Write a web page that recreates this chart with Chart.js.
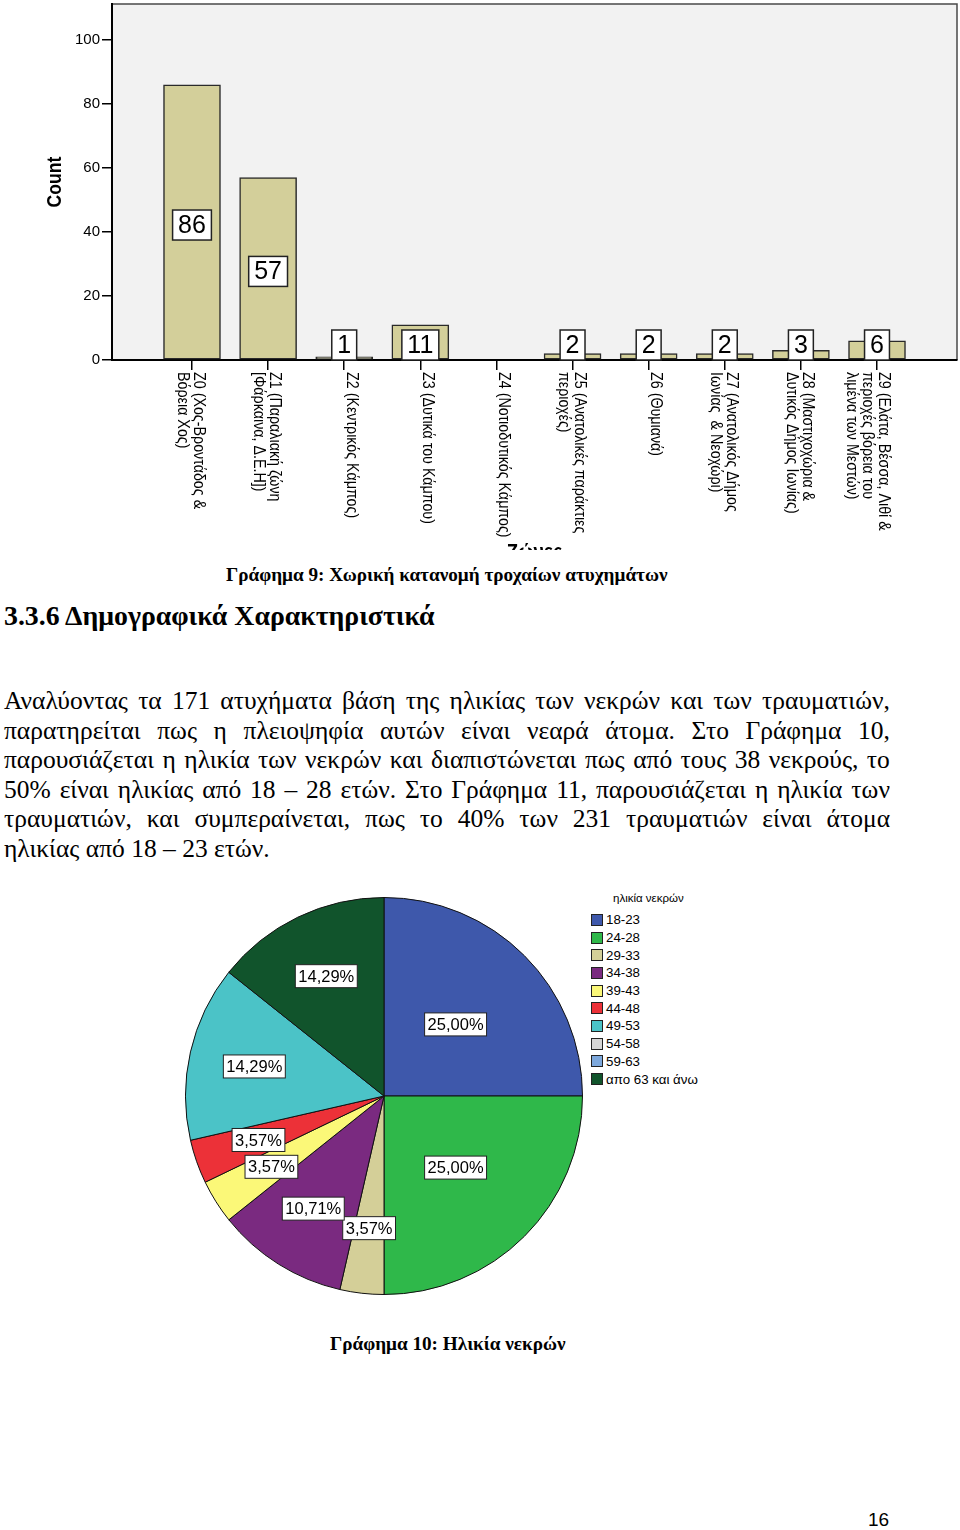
<!DOCTYPE html>
<html lang="el">
<head>
<meta charset="utf-8">
<title>Γράφημα 9 - Γράφημα 10</title>
<script src="https://cdn.jsdelivr.net/npm/chart.js@4.4.1/dist/chart.umd.min.js"></script>
<style>
    body { margin: 0; background: #fff; }
    #page { position: relative; width: 960px; height: 1530px; overflow: hidden; background: #fff; }
    .abs { position: absolute; }
    .serif { font-family: 'Liberation Serif', 'Times New Roman', serif; color: #000; }
    .caption { font-weight: bold; font-size: 19.2px; line-height: 22px; white-space: nowrap; }
    #heading { left: 4px; top: 600px; font-weight: bold; font-size: 27.8px; line-height: 32px; white-space: nowrap; }
    #para { left: 4px; top: 686px; width: 886px; font-size: 25.5px; line-height: 29.6px; }
    #para .ln { display: flex; justify-content: space-between; white-space: nowrap; height: 29.6px; }
    #para .ln.last { display: block; }
    #barWrap { left: 0; top: 0; width: 960px; height: 550px; }
    #pieWrap { left: 185px; top: 897px; width: 398px; height: 398px; }
    #ageLegend { left: 591px; top: 890px; font-family: 'Liberation Sans', Arial, sans-serif; color: #000; }
    #ageLegend .title { font-size: 11.5px; line-height: 16px; margin-left: 22px; margin-bottom: 5px; }
    #ageLegend .row { display: flex; align-items: center; height: 17.7px; }
    #ageLegend .sw { width: 12px; height: 12px; border: 1px solid #222; box-sizing: border-box; margin-right: 3px; }
    #ageLegend .txt { font-size: 13.3px; white-space: nowrap; }
    #pageNum { left: 868px; top: 1508px; font-family: 'Liberation Sans', Arial, sans-serif; font-size: 19px; line-height: 24px; }
</style>
</head>
<body>
<div id="page">
    <div id="barWrap" class="abs"><canvas id="zoneChart"></canvas></div>
    <div class="abs serif caption" style="left:226px; top:564px;">Γράφημα 9: Χωρική κατανομή τροχαίων ατυχημάτων</div>
    <div id="heading" class="abs serif">3.3.6 Δημογραφικά Χαρακτηριστικά</div>
    <div id="para" class="abs serif">
        <div class="ln">Αναλύοντας τα 171 ατυχήματα βάση της ηλικίας των νεκρών και των τραυματιών,</div>
        <div class="ln">παρατηρείται πως η πλειοψηφία αυτών είναι νεαρά άτομα. Στο Γράφημα 10,</div>
        <div class="ln">παρουσιάζεται η ηλικία των νεκρών και διαπιστώνεται πως από τους 38 νεκρούς, το</div>
        <div class="ln">50% είναι ηλικίας από 18 – 28 ετών. Στο Γράφημα 11, παρουσιάζεται η ηλικία των</div>
        <div class="ln">τραυματιών, και συμπεραίνεται, πως το 40% των 231 τραυματιών είναι άτομα</div>
        <div class="ln last">ηλικίας από 18 – 23 ετών.</div>
    </div>
    <div id="pieWrap" class="abs"><canvas id="ageChart"></canvas></div>
    <div id="ageLegend" class="abs"></div>
    <div class="abs serif caption" style="left:330px; top:1333px;">Γράφημα 10: Ηλικία νεκρών</div>
    <div id="pageNum" class="abs">16</div>
</div>

<script>
// Graphique 9 : accidents par zone
const zoneLabels = [
    ['Z0 (Χος-Βροντάδος &', 'Βόρεια Χος)'],
    ['Z1 (Παραλιακή ζώνη', '[Φάρκαινα, Δ.Ε.Η])'],
    ['Z2 (Κεντρικός Κάμπος)'],
    ['Z3 (Δυτικά του Κάμπου)'],
    ['Z4 (Νοτιοδυτικός Κάμπος)'],
    ['Z5 (Ανατολικές παράκτιες', 'περιοχές)'],
    ['Z6 (Θυμιανά)'],
    ['Z7 (Ανατολικός Δήμος', 'Ιωνίας  & Νεοχώρι)'],
    ['Z8 (Μαστιχοχώρια &', 'Δυτικός Δήμος Ιωνίας)'],
    ['Z9 (Ελάτα, Βέσσα, Λιθί &', 'περιοχές βόρεια του', 'λιμένα των Μεστών)']
];
const zoneCounts = [86, 57, 1, 11, 0, 2, 2, 2, 3, 6];
const countTicks = [0, 20, 40, 60, 80, 100];

// Graphique 10 : âge des victimes
const ageGroups = ['18-23', '24-28', '29-33', '34-38', '39-43', '44-48', '49-53', '54-58', '59-63', 'απο 63 και άνω'];
const agePercents = [25.00, 25.00, 3.57, 10.71, 3.57, 3.57, 14.29, 0, 0, 14.29];

const ageColors = ['#3e58ab', '#2fb84a', '#d4cf98', '#7a2a80', '#fbf878', '#ec3138', '#4bc3c7', '#d5d5d5', '#7da8dc', '#11542c'];
const SANS = '"Liberation Sans", Arial, sans-serif';

// Texte "narrow" : Liberation Sans compressée horizontalement
function narrowText(ctx, text, x, y, size, bold) {
    ctx.save();
    ctx.translate(x, y);
    ctx.scale(0.84, 1);
    ctx.font = (bold ? 'bold ' : '') + size + 'px ' + SANS;
    ctx.fillText(text, 0, 0);
    ctx.restore();
}

// Paragraphe justifié ligne par ligne (mots répartis en flex)
document.querySelectorAll('#para .ln').forEach(ln => {
    if (ln.classList.contains('last')) return;
    const words = ln.textContent.trim().split(/\s+/);
    ln.textContent = '';
    words.forEach(w => {
        const s = document.createElement('span');
        s.textContent = w;
        ln.appendChild(s);
    });
});

/**
 * Fond gris et cadre de la zone de tracé
 */
const plotFrame = {
    id: 'plotFrame',
    beforeDraw(chart) {
        const {ctx, chartArea: a} = chart;
        ctx.save();
        ctx.fillStyle = '#f2f2f2';
        ctx.fillRect(a.left, a.top, a.right - a.left, a.bottom - a.top);
        ctx.strokeStyle = '#4a4a4a';
        ctx.lineWidth = 1.5;
        ctx.beginPath();
        ctx.moveTo(a.left, a.top);
        ctx.lineTo(a.right, a.top);
        ctx.lineTo(a.right, a.bottom);
        ctx.stroke();
        ctx.restore();
    }
};

/**
 * Étiquettes des barres, libellés verticaux et titres d'axes
 */
const zoneText = {
    id: 'zoneText',
    afterDraw(chart) {
        const {ctx, chartArea: a} = chart;
        const xs = chart.scales.x;
        const ys = chart.scales.y;
        const meta = chart.getDatasetMeta(0);
        const zeroY = ys.getPixelForValue(0);

        ctx.save();
        ctx.textAlign = 'center';
        ctx.textBaseline = 'middle';
        ctx.font = '25px ' + SANS;
        meta.data.forEach((bar, i) => {
            const v = zoneCounts[i];
            if (!v) return;
            const txt = String(v);
            const cy = Math.min((bar.y + bar.base) / 2 + 3, zeroY - 15);
            const w = ctx.measureText(txt).width + 11;
            ctx.fillStyle = '#fff';
            ctx.fillRect(bar.x - w / 2, cy - 15, w, 30);
            ctx.strokeStyle = '#222';
            ctx.lineWidth = 1.5;
            ctx.strokeRect(bar.x - w / 2, cy - 15, w, 30);
            ctx.fillStyle = '#000';
            ctx.fillText(txt, bar.x, cy + 1);
        });

        // libellés des zones, tournés de 90°
        ctx.textAlign = 'left';
        zoneLabels.forEach((lines, i) => {
            const px = xs.getPixelForValue(i);
            ctx.save();
            ctx.translate(px, 372);
            ctx.rotate(Math.PI / 2);
            lines.forEach((t, k) => narrowText(ctx, t, 0, -7 + 16 * k, 17, false));
            ctx.restore();
        });

        // titre de l'axe Y
        ctx.save();
        ctx.textAlign = 'center';
        ctx.translate(55, (a.top + a.bottom) / 2);
        ctx.rotate(-Math.PI / 2);
        narrowText(ctx, 'Count', 0, 0, 21, true);
        ctx.restore();

        // titre de l'axe X (coupé par le bas de l'image)
        ctx.textAlign = 'center';
        ctx.textBaseline = 'top';
        narrowText(ctx, 'Ζώνες', (a.left + a.right) / 2, 542, 22, true);
        ctx.restore();
    }
};

new Chart(document.getElementById('zoneChart'), {
    type: 'bar',
    data: {
        datasets: [{
            data: zoneCounts.map((v, i) => ({x: i, y: v})),
            backgroundColor: '#d3cf9a',
            borderColor: '#2a2a2a',
            borderWidth: 1.5,
            borderSkipped: false,
            barThickness: 57
        }]
    },
    options: {
        responsive: true,
        maintainAspectRatio: false,
        animation: false,
        layout: {padding: {top: 4, right: 3, left: 0, bottom: 0}},
        plugins: {legend: {display: false}, tooltip: {enabled: false}},
        scales: {
            x: {
                type: 'linear',
                min: -1.051,
                max: 10.051,
                offset: false,
                z: 1,
                afterBuildTicks: s => { s.ticks = zoneCounts.map((_, i) => ({value: i})); },
                afterFit: s => { s.height = 190; s.paddingLeft = 0; s.paddingRight = 0; },
                ticks: {display: false},
                grid: {drawOnChartArea: false, drawTicks: true, tickLength: 10, color: '#000', lineWidth: 1.5, offset: false},
                border: {color: '#000', width: 2}
            },
            y: {
                min: 0,
                max: 111.25,
                z: 1,
                afterBuildTicks: s => { s.ticks = countTicks.map(v => ({value: v})); },
                afterFit: s => { s.width = 112; s.paddingTop = 0; s.paddingBottom = 0; },
                ticks: {color: '#000', padding: 2, font: {family: 'Liberation Sans', size: 15}},
                grid: {drawOnChartArea: false, drawTicks: true, tickLength: 10, color: '#000', lineWidth: 1.5},
                border: {color: '#000', width: 2}
            }
        }
    },
    plugins: [plotFrame, zoneText]
});

/**
 * Pourcentages dans des cadres blancs sur le camembert
 */
const pieTags = {
    id: 'pieTags',
    afterDatasetsDraw(chart) {
        const {ctx} = chart;
        const meta = chart.getDatasetMeta(0);
        ctx.save();
        ctx.font = '16.5px ' + SANS;
        ctx.textAlign = 'center';
        ctx.textBaseline = 'middle';
        meta.data.forEach((arc, i) => {
            const v = agePercents[i];
            if (!v) return;
            const mid = (arc.startAngle + arc.endAngle) / 2;
            const f = v >= 20 ? 0.51 : 0.67;
            const cx = arc.x + Math.cos(mid) * arc.outerRadius * f;
            const cy = arc.y + Math.sin(mid) * arc.outerRadius * f;
            const txt = v.toFixed(2).replace('.', ',') + '%';
            const w = ctx.measureText(txt).width + 6;
            ctx.fillStyle = '#fff';
            ctx.fillRect(cx - w / 2, cy - 11.5, w, 23);
            ctx.strokeStyle = '#222';
            ctx.lineWidth = 1;
            ctx.strokeRect(cx - w / 2, cy - 11.5, w, 23);
            ctx.fillStyle = '#000';
            ctx.fillText(txt, cx, cy + 1);
        });
        ctx.restore();
    }
};

new Chart(document.getElementById('ageChart'), {
    type: 'pie',
    data: {
        labels: ageGroups,
        datasets: [{
            data: agePercents,
            backgroundColor: ageColors,
            borderColor: '#111',
            borderWidth: 1
        }]
    },
    options: {
        responsive: true,
        maintainAspectRatio: false,
        animation: false,
        layout: {padding: 0},
        plugins: {legend: {display: false}, tooltip: {enabled: false}}
    },
    plugins: [pieTags]
});

// Légende HTML construite à partir des tableaux
const legend = document.getElementById('ageLegend');
const legendTitle = document.createElement('div');
legendTitle.className = 'title';
legendTitle.textContent = 'ηλικία νεκρών';
legend.appendChild(legendTitle);
ageGroups.forEach((g, i) => {
    const row = document.createElement('div');
    row.className = 'row';
    const sw = document.createElement('span');
    sw.className = 'sw';
    sw.style.background = ageColors[i];
    const txt = document.createElement('span');
    txt.className = 'txt';
    txt.textContent = g;
    row.appendChild(sw);
    row.appendChild(txt);
    legend.appendChild(row);
});
</script>
</body>
</html>
